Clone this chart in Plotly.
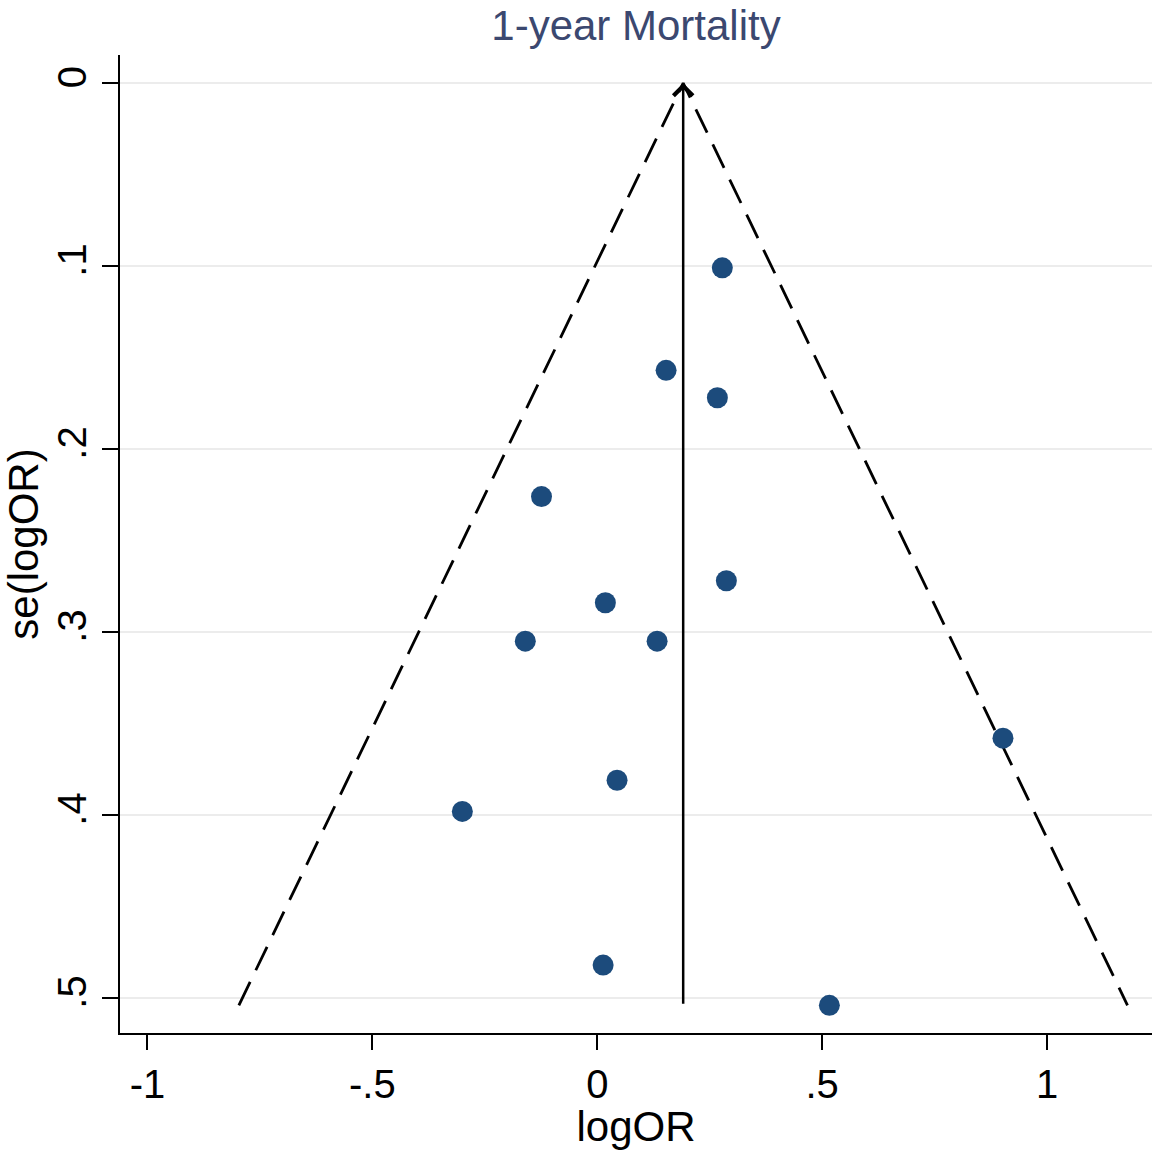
import plotly.graph_objects as go

# Study-level data
log_or = [0.278, 0.153, 0.267, -0.124, 0.287, 0.018, -0.160, 0.133, 0.902, 0.044, -0.300, 0.013, 0.516]
se_log_or = [0.101, 0.157, 0.172, 0.226, 0.272, 0.284, 0.305, 0.305, 0.358, 0.381, 0.398, 0.482, 0.504]

# Pooled (fixed-effect) estimate shown as the vertical line
pooled = 0.191
z = 1.96

x_tickvals = [-1, -0.5, 0, 0.5, 1]
x_ticktext = ["-1", "-.5", "0", ".5", "1"]
y_tickvals = [0, 0.1, 0.2, 0.3, 0.4, 0.5]
y_ticktext = ["0", ".1", ".2", ".3", ".4", ".5"]

se_max = max(se_log_or)

FONT = "Liberation Sans, Arial, sans-serif"

fig = go.Figure()

# pseudo 95% confidence limits
fig.add_trace(go.Scatter(
    x=[pooled - z * se_max, pooled, pooled + z * se_max],
    y=[se_max, 0, se_max],
    mode="lines",
    line=dict(color="black", width=2.8, dash="26px,13px"),
    hoverinfo="skip",
    showlegend=False,
))

# studies
fig.add_trace(go.Scatter(
    x=log_or, y=se_log_or,
    mode="markers",
    marker=dict(color="#1c4b7c", size=21, line=dict(width=0)),
    showlegend=False,
))

# vertical line with arrowhead at pooled estimate
fig.add_annotation(
    x=pooled, y=0, ax=pooled, ay=se_max,
    xref="x", yref="y", axref="x", ayref="y",
    text="", showarrow=True,
    arrowhead=4, arrowsize=1.5, arrowwidth=2.5, arrowcolor="black",
)

fig.update_layout(
    width=1152, height=1150,
    margin=dict(l=120, r=0, t=55, b=117),
    plot_bgcolor="white", paper_bgcolor="white",
    font=dict(family=FONT, color="black", size=40),
    title=dict(
        text="1-year Mortality",
        font=dict(family=FONT, size=42, color="#3b4870"),
        x=0.5, xref="paper", xanchor="center",
        y=1 - 25 / 1150, yref="container", yanchor="middle",
    ),
    showlegend=False,
)

fig.update_xaxes(
    range=[-1.0611, 1.2333],
    tickvals=x_tickvals, ticktext=x_ticktext,
    showgrid=False, zeroline=False,
    showline=True, linecolor="black", linewidth=2,
    ticks="outside", ticklen=15, tickwidth=2, tickcolor="black",
    tickfont=dict(size=40),
    title=dict(text="logOR", font=dict(size=42), standoff=0),
)

fig.update_yaxes(
    range=[0.5191, -0.0153],
    tickvals=y_tickvals, ticktext=y_ticktext,
    tickangle=-90,
    showgrid=True, gridcolor="#ececec", gridwidth=2,
    zeroline=False,
    showline=True, linecolor="black", linewidth=2,
    ticks="outside", ticklen=16, tickwidth=2, tickcolor="black",
    tickfont=dict(size=40),
    title=dict(text="se(logOR)", font=dict(size=42), standoff=16),
)

fig.write_html("out.html", config={"displayModeBar": False},
               post_script="document.body.style.margin='0';")
